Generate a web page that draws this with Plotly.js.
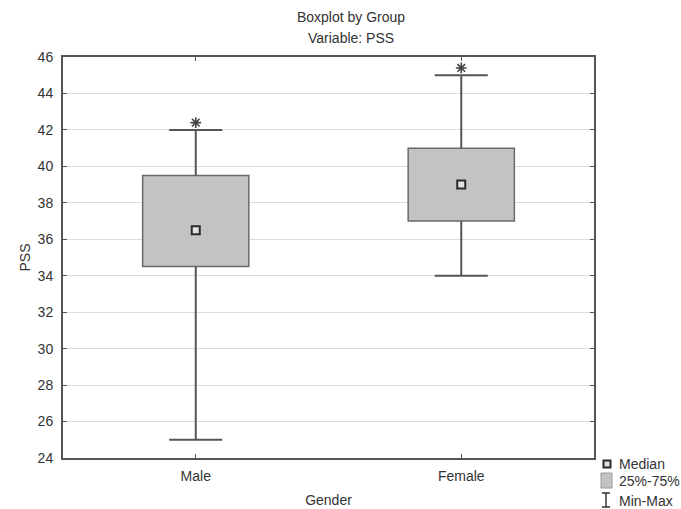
<!DOCTYPE html>
<html>
<head>
<meta charset="utf-8">
<script src="https://cdn.plot.ly/plotly-3.0.1.min.js"></script>
<style>
  html, body { margin: 0; padding: 0; background: #fff; }
  #chart { width: 681px; height: 509px; }
</style>
</head>
<body>
<div id="chart"></div>
<script>
// ---- data ----
const categories = ['Male', 'Female'];
const minVals = [25, 34];
const q1Vals = [34.5, 37];
const medianVals = [36.5, 39];
const q3Vals = [39.5, 41];
const maxVals = [42, 45];
const extremeVals = [42.4, 45.4];
const yTickVals = [24, 26, 28, 30, 32, 34, 36, 38, 40, 42, 44, 46];
const legendLabels = ['Median', '25%-75%', 'Min-Max'];
const titleText = 'Boxplot by Group';
const subtitleText = 'Variable: PSS';

// ---- styling ----
const FONT = 'Arial, "Liberation Sans", sans-serif';
const TXT = '#333333';
const AX = '#555555';
const BOX_FILL = '#c3c3c3';
const BOX_LINE = '#6a6a6a';
const WHISK = '#555555';
const boxWidth = 0.4;
const capHalf = 0.1;

const W = 681, H = 509;
const M = {l: 63, r: 87, t: 57, b: 51};
const plotW = W - M.l - M.r, plotH = H - M.t - M.b;
const px2x = px => (px - M.l) / plotW;
const py2y = py => (H - M.b - py) / plotH;

const idx = categories.map((c, i) => i);

// box bodies (25%-75%)
const boxTrace = {
  type: 'bar',
  x: idx,
  base: q1Vals,
  y: q3Vals.map((q, i) => q - q1Vals[i]),
  width: idx.map(() => boxWidth),
  marker: {color: BOX_FILL, line: {color: BOX_LINE, width: 1.5}},
  showlegend: false,
  hoverinfo: 'skip'
};

// whiskers and caps (Min-Max)
const wx = [], wy = [];
idx.forEach(i => {
  wx.push(i, i, null, i, i, null, i - capHalf, i + capHalf, null, i - capHalf, i + capHalf, null);
  wy.push(minVals[i], q1Vals[i], null, q3Vals[i], maxVals[i], null,
          minVals[i], minVals[i], null, maxVals[i], maxVals[i], null);
});
const whiskerTrace = {
  type: 'scatter', mode: 'lines', x: wx, y: wy,
  line: {color: WHISK, width: 2},
  showlegend: false, hoverinfo: 'skip'
};

// medians
const medianTrace = {
  type: 'scatter', mode: 'markers', x: idx, y: medianVals,
  marker: {symbol: 'square', size: 8, color: '#e2e2e2', line: {color: '#2a2a2a', width: 2}},
  showlegend: false
};

// extremes
const extremeTrace = {
  type: 'scatter', mode: 'markers', x: idx, y: extremeVals,
  marker: {symbol: 'asterisk-open', size: 9, color: '#444444', line: {color: '#444444', width: 1.6}},
  showlegend: false
};

// ---- custom legend (paper coords) ----
const shapes = [
  {type: 'rect', xref: 'paper', yref: 'paper',
   x0: px2x(603.5), x1: px2x(610.5), y0: py2y(467.5), y1: py2y(460.5),
   fillcolor: '#e2e2e2', line: {color: '#2a2a2a', width: 2}},
  {type: 'rect', xref: 'paper', yref: 'paper',
   x0: px2x(601), x1: px2x(612), y0: py2y(488), y1: py2y(473),
   fillcolor: BOX_FILL, line: {color: '#9a9a9a', width: 1}},
  {type: 'line', xref: 'paper', yref: 'paper',
   x0: px2x(606), x1: px2x(606), y0: py2y(507), y1: py2y(493),
   line: {color: '#333', width: 1.5}},
  {type: 'line', xref: 'paper', yref: 'paper',
   x0: px2x(602), x1: px2x(610), y0: py2y(493), y1: py2y(493),
   line: {color: '#333', width: 1.5}},
  {type: 'line', xref: 'paper', yref: 'paper',
   x0: px2x(602), x1: px2x(610), y0: py2y(507), y1: py2y(507),
   line: {color: '#333', width: 1.5}}
];
const legendY = [464, 481, 501];
const annotations = legendLabels.map((t, i) => ({
  text: t, xref: 'paper', yref: 'paper',
  x: px2x(617), y: py2y(legendY[i]), xanchor: 'left', yanchor: 'middle',
  showarrow: false, font: {family: FONT, size: 14, color: TXT}
}));
annotations.push({
  text: subtitleText, xref: 'paper', yref: 'paper',
  x: px2x(351), y: py2y(38), xanchor: 'center', yanchor: 'middle',
  showarrow: false, font: {family: FONT, size: 14, color: TXT}
});

const layout = {
  width: W, height: H,
  margin: M,
  paper_bgcolor: '#ffffff', plot_bgcolor: '#ffffff',
  font: {family: FONT, size: 14, color: TXT},
  showlegend: false,
  title: {
    text: titleText,
    xref: 'container', x: 351 / W, xanchor: 'center',
    yref: 'container', y: 1 - 17 / H, yanchor: 'middle',
    font: {family: FONT, size: 14, color: TXT}
  },
  xaxis: {
    range: [-0.5, 1.5], tickvals: idx, ticktext: categories,
    showgrid: false, zeroline: false,
    showline: true, linecolor: AX, linewidth: 2, mirror: 'allticks',
    ticks: 'inside', ticklen: 4, tickwidth: 1, tickcolor: AX,
    ticklabelstandoff: 4,
    title: {text: 'Gender', standoff: 12, font: {family: FONT, size: 14, color: TXT}},
    automargin: false, fixedrange: true
  },
  yaxis: {
    range: [24, 46], tickvals: yTickVals,
    showgrid: true, gridcolor: '#dcdcdc', gridwidth: 1, zeroline: false,
    showline: true, linecolor: AX, linewidth: 2, mirror: 'allticks',
    ticks: 'inside', ticklen: 4, tickwidth: 1, tickcolor: AX,
    ticklabelstandoff: 5,
    title: {text: 'PSS', standoff: 4, font: {family: FONT, size: 14, color: TXT}},
    automargin: false, fixedrange: true
  },
  shapes: shapes,
  annotations: annotations
};

Plotly.newPlot('chart', [boxTrace, whiskerTrace, medianTrace, extremeTrace], layout,
  {displayModeBar: false, staticPlot: true});
</script>
</body>
</html>
